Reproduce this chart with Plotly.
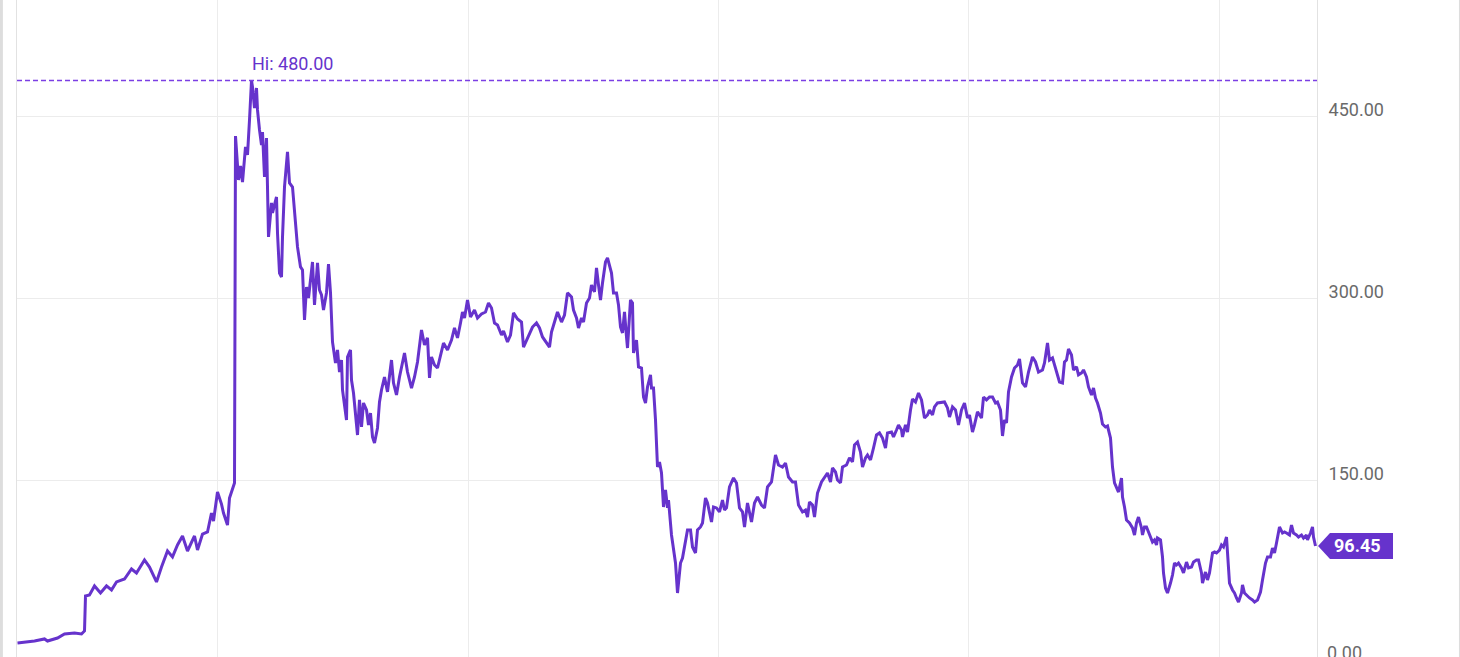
import plotly.graph_objects as go

# trading-session index (0 = first session shown) and closing prices
sessions = [
    0, 17, 27, 30, 40, 47, 57, 64, 67, 68, 72, 77, 83, 89, 94, 99, 107, 114, 119, 127,
    132, 139, 144, 150, 155, 160, 165, 170, 177, 180, 185, 190, 194, 196, 200, 204, 206, 210, 212, 215,
    217, 218, 221, 223, 225, 228, 230, 232, 234, 235, 237, 239, 240, 242, 244, 245, 247, 249, 250, 251,
    254, 255, 259, 260, 262, 264, 265, 267, 270, 272, 275, 277, 280, 283, 285, 287, 289, 291, 293, 295,
    297, 300, 302, 304, 306, 309, 311, 313, 315, 318, 320, 322, 324, 325, 329, 330, 333, 334, 336, 338,
    340, 342, 344, 346, 349, 351, 353, 355, 357, 360, 362, 364, 367, 370, 374, 376, 379, 382, 387, 390,
    394, 397, 400, 404, 407, 410, 412, 414, 417, 420, 424, 426, 430, 434, 437, 440, 443, 445,
    447, 450, 453, 457, 460, 464, 468, 471, 474, 477, 480, 484, 486, 490, 493, 496, 500, 504, 506, 509,
    512, 515, 519, 522, 525, 529, 532, 534, 537, 540, 544, 547, 550, 554, 556, 559, 561, 564, 566, 569,
    572, 574, 577, 579, 581, 583, 585, 588, 590, 594, 596, 599, 601, 603, 605, 607, 609, 610, 613, 615,
    616, 619, 621, 624, 626, 628, 630, 633, 634, 636, 638, 640, 642, 644, 646, 648, 650, 651, 654, 656,
    658, 660, 663, 665, 667,
    670, 673, 675, 678, 680, 683, 685, 688, 690, 694, 696, 699, 702, 705, 707, 709, 712, 716, 719, 722,
    725, 727, 730, 734, 737, 740, 744, 747, 750, 754, 758, 761, 765, 768, 771, 775, 778, 781, 785, 788,
    790, 792, 795, 797, 800, 804, 807, 810, 813, 815, 818, 820, 823, 825, 829, 832, 835, 837, 840, 843,
    845, 848, 850, 853, 856, 859, 862, 865, 868, 870, 874, 876, 879, 881,
    884, 885, 888, 890, 893, 895, 898, 901, 904, 907, 910, 912, 915, 917, 920, 924, 927, 930, 932, 935,
    938, 941, 944, 947, 950, 952, 955, 957, 960, 964, 966, 969, 972, 975, 978, 980, 983, 985, 987, 989,
    991, 994, 997, 1000, 1002, 1005, 1008, 1011, 1015, 1018, 1021, 1025, 1027, 1030, 1032, 1035, 1039, 1042, 1045, 1047,
    1049, 1051, 1054, 1056, 1059, 1061, 1064, 1066, 1069, 1071, 1074, 1076, 1078, 1080, 1083, 1085, 1088, 1090, 1093, 1095,
    1097, 1099, 1101, 1104, 1105, 1107, 1109, 1112, 1115, 1117, 1119, 1121, 1124, 1125, 1127, 1129, 1132, 1135, 1137, 1139,
    1140, 1143, 1145, 1146, 1148, 1150, 1153, 1155, 1157, 1159, 1161, 1164, 1166, 1169, 1171, 1174, 1176, 1179, 1181, 1184,
    1185, 1188, 1190, 1192, 1195, 1197, 1199, 1202, 1204, 1206, 1209, 1210, 1212, 1215, 1217, 1219, 1221, 1224, 1225, 1227,
    1229, 1232, 1235, 1237, 1240, 1243, 1245, 1248, 1250, 1253, 1255, 1257, 1259, 1262, 1265, 1267, 1269, 1272, 1274, 1276,
    1279, 1281, 1284, 1286, 1289, 1290, 1293, 1295, 1296, 1298,
]

closes = [
    16.5, 18.1, 19.8, 18.1, 20.6, 23.9, 24.7, 23.9, 26.4, 55.2, 56.0, 63.5, 57.7, 63.5, 60.2, 66.8, 69.2, 77.5, 74.2, 84.9,
    79.1, 66.8, 79.1, 92.3, 87.4, 97.3, 104.7, 92.3, 104.7, 93.1, 106.3, 108.0, 123.6, 117.0, 140.9, 131.0, 123.6, 113.7, 136.0, 143.4,
    148.4, 434.3, 398.1, 409.6, 396.4, 425.3, 418.7, 447.5, 480.0, 474.7, 457.4, 473.9, 455.8, 439.3, 426.9, 437.6, 400.6, 432.7, 395.6, 351.1,
    379.1, 370.9, 384.1, 354.4, 321.4, 318.1, 351.1, 392.3, 421.2, 395.6, 392.3, 369.2, 342.9, 326.4, 323.9, 282.7, 309.9, 300.8, 315.7, 330.5,
    295.1, 329.7, 307.4, 303.3, 290.9, 305.0, 328.8, 305.0, 264.6, 247.3, 258.0, 239.8, 249.7, 225.0, 200.3, 252.2, 258.0, 233.2, 222.5, 206.0,
    187.9, 216.8, 194.5, 214.3, 208.5, 196.2, 206.0, 186.3, 181.3, 193.7, 215.1, 225.0, 235.7, 223.4, 249.7, 230.8, 220.9, 235.7, 255.5, 239.8,
    226.6, 235.7, 248.1, 274.4, 262.1, 267.9, 234.9, 252.2, 245.6, 243.1, 255.5, 263.7, 258.0, 266.2, 276.1, 267.9, 280.2, 289.3,
    284.3, 299.2, 285.2, 290.9, 284.3, 287.6, 289.3, 296.7, 292.6, 280.2, 278.6, 270.3, 273.6, 264.6, 270.3, 288.5, 283.5, 281.0, 260.4, 266.2,
    272.0, 276.9, 280.2, 276.1, 268.7, 263.7, 260.4, 272.8, 280.2, 289.3, 281.0, 286.8, 305.0, 301.7, 290.9, 284.3, 276.1, 284.3, 281.0, 296.7,
    300.8, 311.5, 305.8, 325.6, 311.5, 299.2, 313.2, 330.5, 333.8, 321.4, 305.0, 305.0, 295.1, 276.9, 272.0, 289.3, 268.7, 259.6, 299.2, 296.7,
    255.5, 266.2, 244.0, 243.1, 219.2, 214.3, 227.5, 237.4, 226.6, 226.6, 200.3, 161.5, 165.7, 156.6, 128.6, 142.6, 127.8, 134.3, 105.5, 93.1,
    82.4, 57.7, 82.4, 86.5, 95.6,
    109.6, 109.6, 95.6, 90.7, 109.6, 112.1, 115.4, 136.0, 131.9, 116.2, 128.6, 127.8, 124.5, 134.3, 126.1, 127.8, 145.1, 152.5, 148.4, 127.8,
    124.5, 112.1, 131.9, 116.2, 131.9, 136.8, 130.2, 127.8, 145.1, 149.2, 171.4, 163.2, 161.5, 164.8, 153.3, 149.2, 149.2, 130.2, 124.5, 126.1,
    120.3, 132.7, 130.2, 120.3, 140.1, 149.2, 152.5, 156.6, 149.2, 160.7, 157.4, 150.8, 148.4, 161.5, 163.2, 169.0, 165.7, 179.7, 182.1, 173.9,
    161.5, 169.0, 171.4, 167.3, 177.2, 187.9, 189.6, 185.4, 177.2, 189.6, 190.4, 186.3, 192.0, 196.2,
    192.0, 186.3, 196.2, 190.4, 208.5, 217.6, 215.1, 222.5, 216.8, 201.9, 204.4, 208.5, 204.4, 211.0, 214.3, 215.1, 215.1, 210.2, 202.7, 211.0,
    208.5, 196.2, 208.5, 214.3, 201.9, 204.4, 190.4, 196.2, 206.9, 201.9, 219.2, 216.8, 219.2, 219.2, 214.3, 215.1, 208.5, 187.1, 200.3, 197.8,
    223.4, 235.7, 243.1, 245.6, 250.6, 230.8, 227.5, 239.8, 252.2, 248.1, 239.8, 241.5, 247.3, 263.7, 249.7, 251.4, 239.0, 231.6, 230.8, 248.1,
    249.7, 258.8, 253.8, 241.5, 244.0, 237.4, 239.0, 241.5, 235.7, 227.5, 220.9, 226.6, 218.4, 214.3, 206.0, 197.0, 194.5, 195.3, 185.4, 161.5,
    148.4, 144.2, 140.9, 152.5, 136.8, 128.6, 117.9, 115.4, 111.3, 105.5, 115.4, 120.3, 111.3, 105.5, 112.1, 112.1, 105.5, 99.7, 101.4, 97.3,
    103.0, 101.4, 87.4, 74.2, 61.8, 57.7, 65.9, 72.5, 82.4, 80.8, 82.4, 78.3, 74.2, 83.2, 78.3, 79.1, 83.2, 84.9, 84.9, 74.2,
    65.9, 75.0, 68.4, 74.2, 90.7, 91.5, 90.7, 93.1, 97.3, 95.6, 103.8, 87.4, 65.9, 60.2, 57.7, 53.6, 50.3, 57.7, 64.3, 57.7,
    56.0, 53.6, 51.9, 50.3, 51.9, 58.5, 68.4, 82.4, 87.4, 87.4, 94.8, 90.7, 98.9, 112.1, 107.1, 108.0, 107.1, 105.5, 113.7, 107.1,
    105.5, 103.8, 105.5, 103.0, 105.5, 101.4, 107.1, 112.1, 103.8, 96.45,
]

assert len(sessions) == len(closes)

year_start_sessions = [200, 451, 701, 951, 1202]
price_ticks = [150, 300, 450]
high_value = 480.00
last_value = closes[-1]

LINE = "#6633CC"
GRID = "#ECECEC"
TICKTXT = "#6A6A6A"
FONT = "Roboto"

peak_idx = closes.index(max(closes))

fig = go.Figure()
fig.add_trace(go.Scatter(
    x=sessions, y=closes, mode="lines",
    line=dict(color=LINE, width=3),
    hoverinfo="skip", showlegend=False,
))

fig.update_layout(
    width=1460, height=657,
    margin=dict(l=17, r=143, t=0, b=0),
    paper_bgcolor="white", plot_bgcolor="white",
    font=dict(family=FONT, size=18, color=TICKTXT),
    hovermode=False,
    xaxis=dict(
        range=[-0.5, 1299.5], tickvals=year_start_sessions, showticklabels=False,
        showgrid=True, gridcolor=GRID, gridwidth=1, zeroline=False, showline=False,
        ticks="", fixedrange=True,
    ),
    yaxis=dict(
        side="right", range=[4.945, 546.4], tickvals=price_ticks,
        ticktext=[f"{v:.2f}" for v in price_ticks],
        ticklabelposition="outside top", ticklabelstandoff=7, ticklabelshift=5, ticks="",
        showgrid=True, gridcolor=GRID, gridwidth=1, zeroline=False,
        showline=True, mirror=True, linecolor="#E2E2E2", linewidth=1,
        tickfont=dict(family=FONT, size=18, color=TICKTXT), fixedrange=True,
    ),
)

# high reference line and label
fig.add_shape(type="line", xref="paper", yref="y", x0=0, x1=1, y0=high_value, y1=high_value,
              line=dict(color="#7B3FE4", width=1.5, dash="5px,3px"))
fig.add_annotation(x=sessions[peak_idx], y=high_value, xref="x", yref="y",
                   text=f"Hi: {high_value:.2f}", showarrow=False,
                   xanchor="left", yanchor="bottom", yshift=5, xshift=-2,
                   font=dict(family=FONT, size=18, color=LINE))

# "0.00" axis label sitting just below the visible area
fig.add_annotation(x=1, xref="paper", y=-0.0091, yref="paper", text="0.00", showarrow=False,
                   xanchor="left", yanchor="bottom", xshift=8, yshift=-2,
                   font=dict(family=FONT, size=18, color=TICKTXT))

# last value tag: notched box
fig.add_shape(type="path", xref="paper", yref="y", xsizemode="pixel", ysizemode="pixel",
              xanchor=1, yanchor=last_value,
              path="M1,0 L13,13 L76,13 L76,-13 L13,-13 Z", fillcolor=LINE, line=dict(width=0))
fig.add_annotation(x=1, xref="paper", y=last_value, yref="y", text=f"<b>{last_value:.2f}</b>",
                   showarrow=False, xanchor="left", yanchor="middle", xshift=15,
                   font=dict(family=FONT, size=18, color="white"))

# container borders
fig.add_shape(type="line", xref="paper", yref="paper", x0=-0.0120, x1=-0.0120, y0=0, y1=1,
              line=dict(color="#DDDDDD", width=3))
fig.add_shape(type="line", xref="paper", yref="paper", x0=1.1096, x1=1.1096, y0=0, y1=1,
              line=dict(color="#DDDDDD", width=1))

fig.write_html("out.html", config={"displayModeBar": False, "staticPlot": True},
               post_script="document.body.style.margin='0';document.body.style.overflow='hidden';")
